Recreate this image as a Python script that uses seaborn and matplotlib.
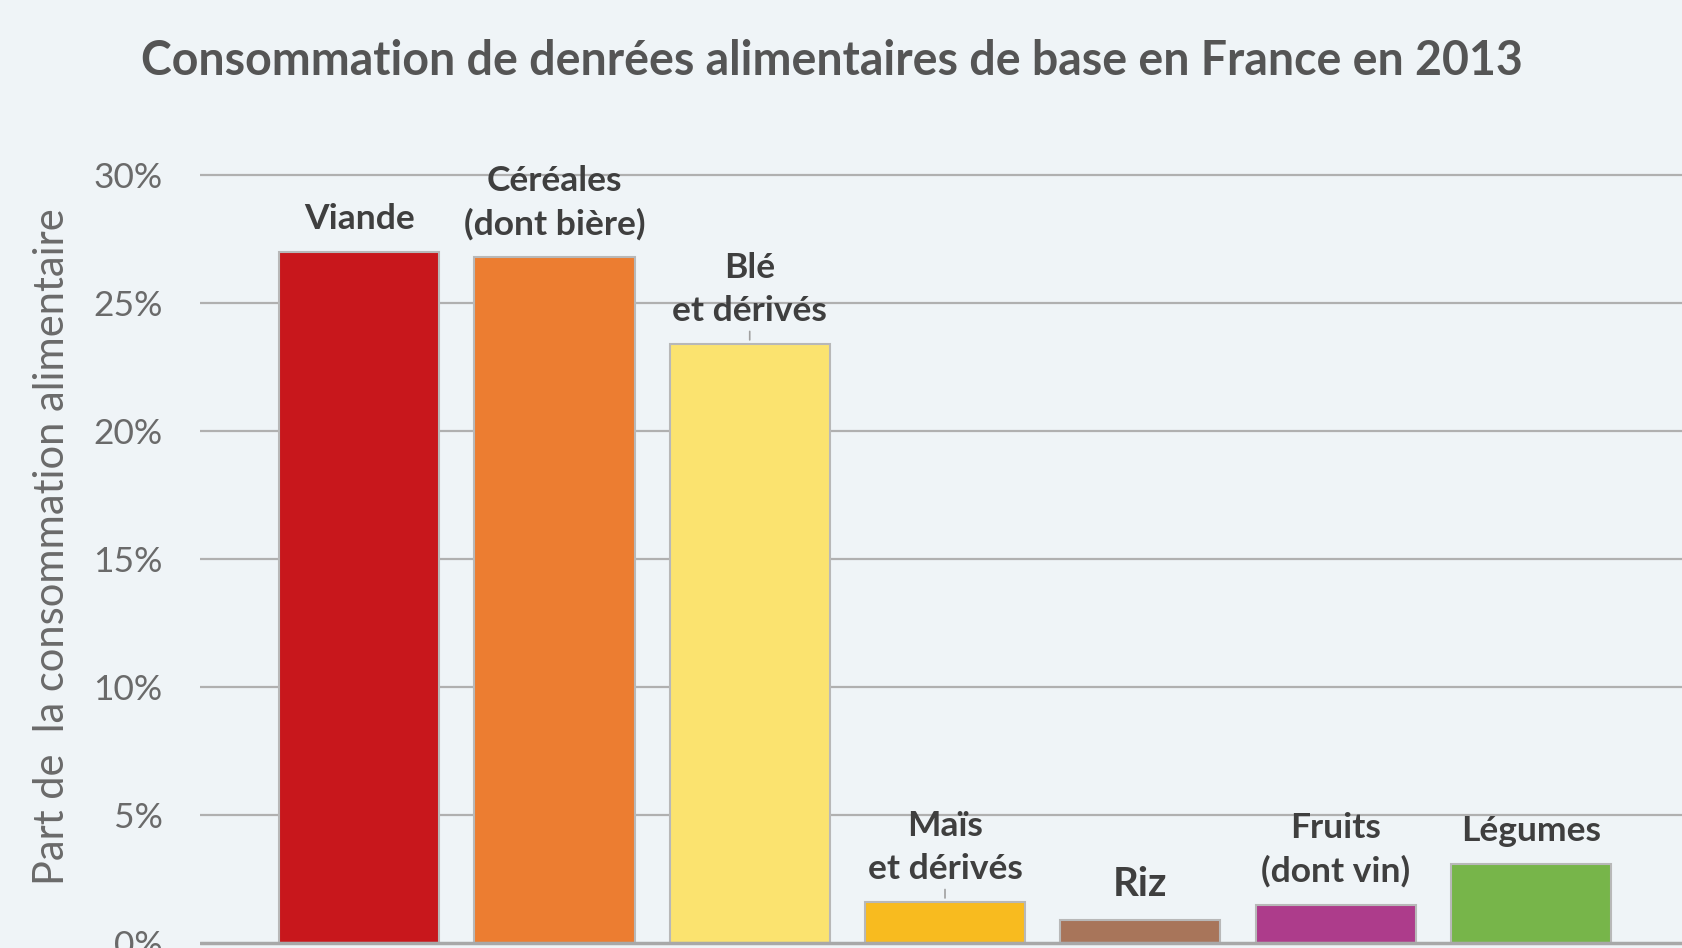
import seaborn as sns
import pandas as pd
import matplotlib.pyplot as plt

# données (part de la consommation alimentaire, %)
categories = ['Viande', 'Céréales\n(dont bière)', 'Blé\net dérivés', 'Maïs\net dérivés',
              'Riz', 'Fruits\n(dont vin)', 'Légumes']
values = [27.0, 26.8, 23.4, 1.6, 0.9, 1.5, 3.1]
colors = ['#c8171c', '#ec7d31', '#fbe36f', '#f8bb1f', '#a8755a', '#ad3c8b', '#77b54a']
yticks = [0, 5, 10, 15, 20, 25, 30]
ytick_labels = ['0%', '5%', '10%', '15%', '20%', '25%', '30%']


def main():
    df = pd.DataFrame({'Categorie': categories, 'Part': values})

    sns.set_style('white')
    plt.rcParams['font.family'] = ['Lato', 'DejaVu Sans']
    bg = '#eff4f7'

    fig = plt.figure(figsize=(16.82, 9.48), dpi=100, facecolor=bg)
    ax = fig.add_axes([200 / 1682, 0, 1482 / 1682, 0.8478])
    ax.set_facecolor(bg)

    sns.barplot(data=df, x='Categorie', y='Part', hue='Categorie', palette=colors,
                saturation=1, legend=False, width=0.82, edgecolor='#b8b8b8',
                linewidth=1.5, zorder=3, ax=ax)

    ax.set_xlim(-0.815, 6.774)
    ax.set_ylim(-0.195, 31.2)
    ax.set_yticks(yticks)
    ax.set_yticklabels(ytick_labels, fontsize=25.5, color='#6a6a6a')
    ax.tick_params(axis='y', length=0, pad=27)
    ax.set_xticks([])
    ax.set_xlabel('')
    ax.set_ylabel('Part de  la consommation alimentaire', fontsize=30, color='#6a6a6a',
                  labelpad=16)
    for y in yticks[1:]:
        ax.axhline(y, color='#b0b0b0', lw=1.6, zorder=1)
    ax.axhline(0, color='#a8a8a8', lw=2.5, zorder=4)
    for s in ax.spines.values():
        s.set_visible(False)

    # étiquettes au-dessus des barres
    for i, (lab, v) in enumerate(zip(categories, values)):
        size = 29 if lab == 'Riz' else 25.5
        ax.annotate(lab, xy=(i, v), xytext=(0, 12), textcoords='offset points',
                    ha='center', va='bottom', fontsize=size, fontweight='bold',
                    color='#3f3f3f', linespacing=1.42, zorder=5)
        if 'dérivés' in lab:
            ax.annotate('', xy=(i, v + 0.05), xytext=(i, v + 0.6),
                        arrowprops=dict(arrowstyle='-', color='#a0a0a0', lw=1.2))

    fig.text(0.4947, 1 - 61 / 948, 'Consommation de denrées alimentaires de base en France en 2013',
             ha='center', va='center', fontsize=33.5, fontweight='bold', color='#555555')

    fig.savefig('out.png', dpi=100, facecolor=bg)


if __name__ == '__main__':
    main()
